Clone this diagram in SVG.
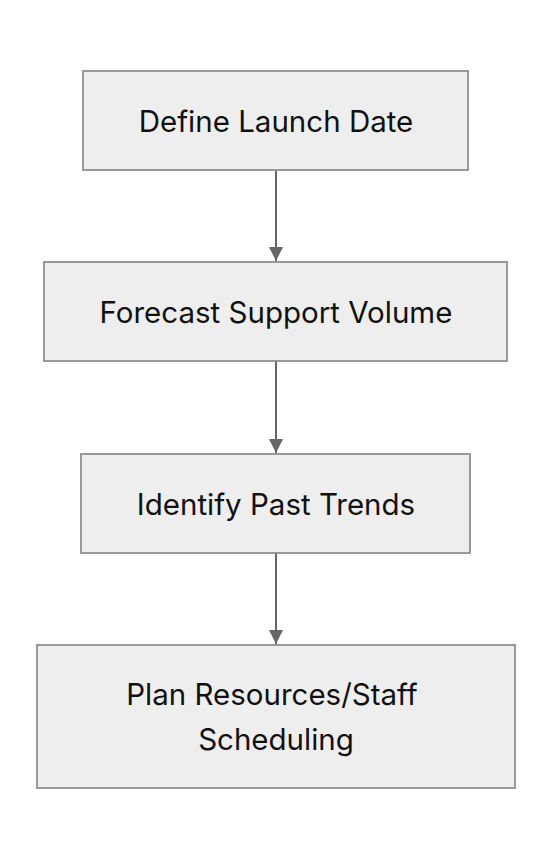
<svg xmlns="http://www.w3.org/2000/svg" width="552" height="860" viewBox="0 0 552 860">
<style>
.box{fill:#eeeeee;stroke:#999999;stroke-width:2}
.lbl{font-family:Inter,"Liberation Sans",sans-serif;font-size:29.5px;fill:#111111;text-anchor:middle;dominant-baseline:central}
.edge{stroke:#666666;stroke-width:2;fill:none}
</style>
<defs>
<marker id="arr" markerWidth="14" markerHeight="14" refX="14" refY="7" orient="auto" markerUnits="userSpaceOnUse" viewBox="0 0 14 14">
<path d="M0,0 L14,7 L0,14 z" fill="#666666"/>
</marker>
</defs>
<rect width="552" height="860" fill="#ffffff"/>
<g id="edges">
<line class="edge" x1="276" y1="171" x2="276" y2="261" marker-end="url(#arr)"/>
<line class="edge" x1="276" y1="362" x2="276" y2="453" marker-end="url(#arr)"/>
<line class="edge" x1="276" y1="554" x2="276" y2="644" marker-end="url(#arr)"/>
</g>
<g id="n1"><rect class="box" x="83" y="71" width="385" height="99"/><text class="lbl" x="276" y="121">Define Launch Date</text></g>
<g id="n2"><rect class="box" x="44" y="262" width="463" height="99"/><text class="lbl" x="276" y="312">Forecast Support Volume</text></g>
<g id="n3"><rect class="box" x="81" y="454" width="389" height="99"/><text class="lbl" x="276" y="504">Identify Past Trends</text></g>
<g id="n4"><rect class="box" x="37" y="645" width="478" height="143"/><text class="lbl" x="272" y="694">Plan Resources/Staff</text><text class="lbl" x="276" y="739">Scheduling</text></g>
</svg>
